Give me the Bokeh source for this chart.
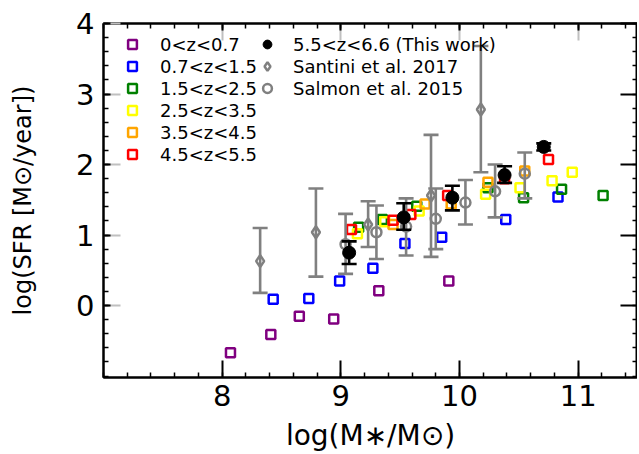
import numpy as np
from bokeh.plotting import figure
from bokeh.models import (ColumnDataSource, Legend, LegendItem, LinearAxis,
                          FixedTicker, Range1d)
from bokeh.embed import file_html
from bokeh.resources import INLINE

# ---------------- data ----------------
z_labels = ["0<z<0.7", "0.7<z<1.5", "1.5<z<2.5", "2.5<z<3.5", "3.5<z<4.5", "4.5<z<5.5"]
z_colors = ["#800080", "#0000ff", "#008000", "#ffff00", "#ffa500", "#ff0000"]

z1_mass = [8.07, 8.41, 8.65, 8.94, 9.32, 9.91]
z1_sfr = [-0.67, -0.41, -0.15, -0.19, 0.21, 0.35]
z2_mass = [8.43, 8.73, 8.99, 9.27, 9.54, 9.85, 10.39, 10.83]
z2_sfr = [0.09, 0.10, 0.35, 0.53, 0.88, 0.97, 1.22, 1.54]
z3_mass = [9.15, 9.35, 9.64, 10.24, 10.54, 10.86, 11.21]
z3_sfr = [1.11, 1.22, 1.41, 1.67, 1.53, 1.65, 1.56]
z4_mass = [9.14, 9.37, 9.66, 10.22, 10.51, 10.78, 10.95]
z4_sfr = [1.02, 1.19, 1.34, 1.58, 1.67, 1.77, 1.89]
z5_mass = [9.44, 9.71, 9.93, 10.24, 10.55]
z5_sfr = [1.15, 1.44, 1.44, 1.75, 1.91]
z6_mass = [9.09, 9.44, 9.59, 9.90, 10.38, 10.75]
z6_sfr = [1.08, 1.21, 1.29, 1.56, 1.80, 2.07]

this_label = "5.5<z<6.6 (This work)"
this_mass = [9.07, 9.53, 9.94, 10.38, 10.71]
this_sfr = [0.75, 1.25, 1.53, 1.85, 2.25]
this_lo = [0.59, 1.075, 1.35, 1.74, 2.20]
this_hi = [0.91, 1.45, 1.70, 1.975, 2.30]

santini_label = "Santini et al. 2017"
santini_mass = [8.32, 8.79, 9.23, 9.76, 10.18]
santini_sfr = [0.63, 1.04, 1.15, 1.56, 2.78]
santini_lo = [0.18, 0.41, 0.83, 0.69, 1.89]
santini_hi = [1.10, 1.66, 1.48, 2.42, 3.68]

salmon_label = "Salmon et al. 2015"
salmon_mass = [9.04, 9.30, 9.55, 9.80, 10.05, 10.30, 10.55]
salmon_sfr = [0.87, 1.04, 1.12, 1.23, 1.46, 1.62, 1.87]
salmon_lo = [0.45, 0.66, 0.71, 0.80, 1.15, 1.25, 1.52]
salmon_hi = [1.30, 1.42, 1.52, 1.66, 1.78, 2.00, 2.17]

x_major = [8, 9, 10, 11]
y_major = [0, 1, 2, 3, 4]
x_label = "log(M\u2217/M\u2299)"
y_label = "log(SFR [M\u2299/year])"

# ---------------- figure ----------------
FONT = "DejaVu Sans"
GREY = "#808080"

p = figure(frame_width=534, frame_height=354,
           x_range=Range1d(7.0, 11.5), y_range=Range1d(-1.02, 4.0),
           output_backend="svg", toolbar_location=None,
           x_axis_location=None, y_axis_location=None,
           min_border_left=103, min_border_right=0, min_border_top=23,
           min_border_bottom=0)
p.grid.visible = False
p.outline_line_color = "black"
p.outline_line_width = 2
p.background_fill_color = "white"
p.border_fill_color = "white"

x_minor = [round(v, 1) for v in np.arange(7.0, 11.5001, 0.2)]
y_minor = [round(v, 1) for v in np.arange(-1.0, 4.0001, 0.2)]


def make_axis(ticks, minor, major_in, major_color, minor_in, labels, line=True):
    ax = LinearAxis(ticker=FixedTicker(ticks=ticks, minor_ticks=minor))
    ax.major_tick_in = major_in
    ax.major_tick_out = 0
    ax.minor_tick_in = minor_in
    ax.minor_tick_out = 0
    ax.major_tick_line_color = major_color
    ax.major_tick_line_width = 2
    ax.minor_tick_line_color = "black" if minor_in else None
    ax.minor_tick_line_width = 1.5
    ax.axis_line_color = "black" if line else None
    ax.axis_line_width = 2
    ax.major_label_text_color = "black"
    ax.axis_label_text_color = "black"
    if not labels:
        ax.major_label_text_font_size = "0px"
        ax.major_label_text_color = None
        ax.major_label_standoff = 0
    return ax


# left: grey long tick under a short black tick
yl_grey = make_axis(y_major, [], 17, "#c0c0c0", 0, False, line=False)
p.add_layout(yl_grey, "left")
yl = make_axis(y_major, y_minor, 7, "black", 5, True)
yl.major_label_text_font_size = "29px"
yl.major_label_text_font = FONT
yl.major_label_standoff = 9
yl.axis_label = y_label
yl.axis_label_text_font = FONT
yl.axis_label_text_font_size = "24px"
yl.axis_label_text_font_style = "normal"
yl.axis_label_standoff = 36
p.add_layout(yl, "left")

xb = make_axis(x_major, x_minor, 17, "black", 5, True)
xb.major_label_text_font_size = "29px"
xb.major_label_text_font = FONT
xb.major_label_standoff = 7
xb.axis_label = x_label
xb.axis_label_text_font = FONT
xb.axis_label_text_font_size = "28px"
xb.axis_label_text_font_style = "normal"
xb.axis_label_standoff = 10
p.add_layout(xb, "below")

xt_grey = make_axis(x_major, [], 17, "#c0c0c0", 0, False, line=False)
p.add_layout(xt_grey, "above")
xt = make_axis(x_major, x_minor, 7, "black", 5, False)
p.add_layout(xt, "above")

yr = make_axis(y_major, y_minor, 17, "black", 5, False)
p.add_layout(yr, "right")

# ---------------- glyphs ----------------
z_mass = [z1_mass, z2_mass, z3_mass, z4_mass, z5_mass, z6_mass]
z_sfr = [z1_sfr, z2_sfr, z3_sfr, z4_sfr, z5_sfr, z6_sfr]
z_renderers = []
for m, s, c in zip(z_mass, z_sfr, z_colors):
    r = p.scatter(m, s, marker="square", size=9, fill_color=None,
                  line_color=c, line_width=2.5)
    z_renderers.append(r)


def errorbars(mass, lo, hi, color, cap, lw):
    src = ColumnDataSource(dict(x=mass, lo=lo, hi=hi))
    p.segment(x0="x", y0="lo", x1="x", y1="hi", source=src,
              line_color=color, line_width=lw)
    p.scatter("x", "lo", source=src, marker="dash", size=cap,
              line_color=color, line_width=lw)
    p.scatter("x", "hi", source=src, marker="dash", size=cap,
              line_color=color, line_width=lw)


errorbars(salmon_mass, salmon_lo, salmon_hi, GREY, 15, 2.6)
r_salmon = p.scatter(salmon_mass, salmon_sfr, marker="circle", size=10,
                     fill_color=None, line_color=GREY, line_width=2.5)

errorbars(santini_mass, santini_lo, santini_hi, GREY, 15, 2.6)
r_santini = p.scatter(santini_mass, santini_sfr, marker="diamond", size=12,
                      fill_color=None, line_color=GREY, line_width=2.5)

errorbars(this_mass, this_lo, this_hi, "black", 15, 2.6)
r_this = p.scatter(this_mass, this_sfr, marker="circle", size=13,
                   fill_color="black", line_color="black", line_width=1)

# ---------------- legends ----------------
def style_legend(lg):
    lg.label_text_font = FONT
    lg.label_text_font_size = "18px"
    lg.label_text_color = "black"
    lg.glyph_width = 22
    lg.glyph_height = 22
    lg.label_height = 20
    lg.spacing = 0
    lg.padding = 0
    lg.margin = 0
    lg.border_line_color = None
    lg.background_fill_alpha = 0
    lg.orientation = "vertical"


leg1 = Legend(items=[LegendItem(label=l, renderers=[r])
                     for l, r in zip(z_labels, z_renderers)],
              location=(18, 212))
style_legend(leg1)
leg1.label_standoff = 17
p.add_layout(leg1, "center")

leg2 = Legend(items=[LegendItem(label=this_label, renderers=[r_this]),
                     LegendItem(label=santini_label, renderers=[r_santini]),
                     LegendItem(label=salmon_label, renderers=[r_salmon])],
              location=(153, 278))
style_legend(leg2)
leg2.label_standoff = 15
p.add_layout(leg2, "center")

open("out.html", "w").write(file_html(p, INLINE))
